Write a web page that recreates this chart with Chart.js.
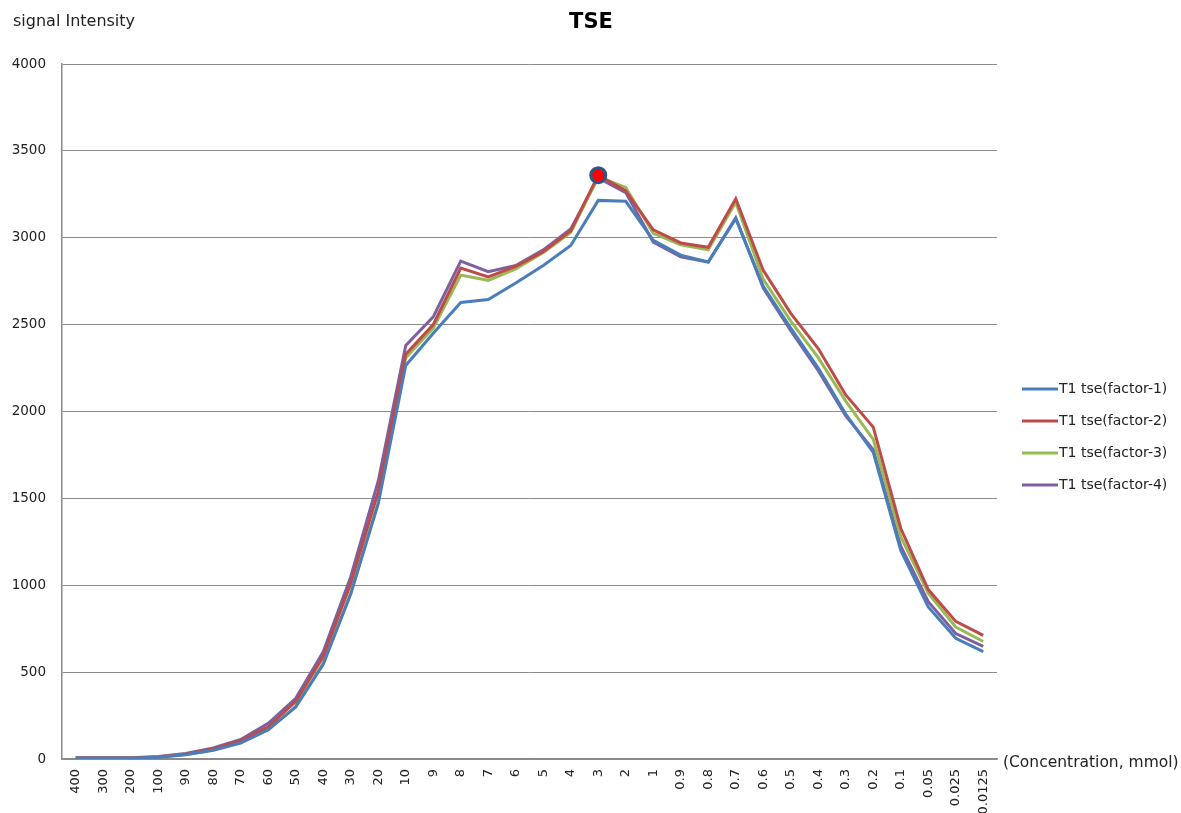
<!DOCTYPE html>
<html>
<head>
<meta charset="utf-8">
<script src="https://cdn.jsdelivr.net/npm/chart.js@4/dist/chart.umd.min.js"></script>
<style>
  html, body { margin: 0; padding: 0; background: #fff; }
  #wrap { width: 1181px; height: 813px; position: relative; }
</style>
</head>
<body>
<div id="wrap"><canvas id="c" width="1181" height="813"></canvas></div>
<script>
const categories = ['400','300','200','100','90','80','70','60','50','40','30','20','10','9','8','7','6','5','4','3','2','1','0.9','0.8','0.7','0.6','0.5','0.4','0.3','0.2','0.1','0.05','0.025','0.0125'];

const factor1 = [5,5,5,10,25,50,92,168,300,545,950,1470,2265,2450,2628,2645,2740,2840,2955,3215,3210,2985,2900,2860,3110,2720,2480,2250,1985,1765,1200,875,695,618];
const factor2 = [6,6,6,12,28,58,105,185,330,590,1010,1540,2330,2500,2825,2775,2835,2920,3040,3360,3270,3045,2970,2945,3225,2812,2565,2362,2095,1910,1328,975,792,712];
const factor3 = [5,5,5,11,26,52,98,168,302,552,955,1480,2310,2480,2785,2755,2820,2915,3030,3350,3290,3025,2960,2930,3205,2760,2520,2310,2060,1840,1280,955,760,676];
const factor4 = [7,7,7,14,32,64,112,205,349,617,1049,1600,2380,2545,2865,2805,2840,2930,3050,3345,3260,2975,2890,2860,3115,2710,2465,2235,1975,1780,1225,905,722,648];

const seriesNames = ['T1 tse(factor-1)','T1 tse(factor-2)','T1 tse(factor-3)','T1 tse(factor-4)'];
const seriesColors = ['#4a7ebb','#be4b48','#98b954','#7d60a0'];
const yTicks = [0,500,1000,1500,2000,2500,3000,3500,4000];

const titleText = 'TSE';
const yTitle = 'signal Intensity';
const xTitle = '(Concentration, mmol)';
const peakLabel = '3';
const peakSeries = 1;

const FONT = "'DejaVu Sans', sans-serif";

const overlay = {
  id: 'overlay',
  afterDatasetsDraw(chart) {
    const ctx = chart.ctx;
    const ca = chart.chartArea;
    // peak marker
    const idx = categories.indexOf(peakLabel);
    const pt = chart.getDatasetMeta(peakSeries).data[idx];
    ctx.save();
    ctx.beginPath();
    ctx.arc(pt.x, pt.y, 7.5, 0, Math.PI * 2);
    ctx.fillStyle = '#ff0000';
    ctx.fill();
    ctx.lineWidth = 3;
    ctx.strokeStyle = '#2f5687';
    ctx.stroke();
    ctx.restore();

    // texts
    ctx.save();
    ctx.fillStyle = '#000';
    ctx.textBaseline = 'middle';
    ctx.font = "bold 21px " + FONT;
    ctx.textAlign = 'center';
    ctx.fillText(titleText, 591, 23);
    ctx.textAlign = 'left';
    ctx.fillStyle = '#222';
    ctx.font = "16px " + FONT;
    ctx.fillText(yTitle, 13, 22);
    ctx.font = "15.5px " + FONT;
    ctx.fillText(xTitle, ca.right + 6, ca.bottom + 4);

    // legend
    const lx = ca.right + 25;
    let ly = 389;
    chart.data.datasets.forEach((ds, i) => {
      ctx.strokeStyle = ds.borderColor;
      ctx.lineWidth = 3;
      ctx.beginPath();
      ctx.moveTo(lx, ly);
      ctx.lineTo(lx + 36, ly);
      ctx.stroke();
      ctx.fillStyle = '#222';
      ctx.font = "14px " + FONT;
      ctx.fillText(ds.label, lx + 37, ly);
      ly += 32;
    });
    ctx.restore();
  }
};

const datasets = [factor1, factor2, factor3, factor4].map((d, i) => ({
  label: seriesNames[i],
  data: d,
  borderColor: seriesColors[i],
  backgroundColor: seriesColors[i],
  borderWidth: 3,
  pointRadius: 0,
  tension: 0,
  fill: false
}));

new Chart(document.getElementById('c'), {
  type: 'line',
  data: { labels: categories, datasets },
  options: {
    responsive: false,
    animation: false,
    devicePixelRatio: 1,
    layout: { padding: { left: 0, right: 184, top: 64, bottom: 0 } },
    plugins: { legend: { display: false }, title: { display: false }, tooltip: { enabled: false } },
    scales: {
      x: {
        offset: true,
        grid: { display: false, drawTicks: false },
        border: { display: true, color: '#8a8a8a', width: 1.5 },
        ticks: {
          minRotation: 90, maxRotation: 90, autoSkip: false,
          padding: 10,
          color: '#222',
          font: { family: FONT, size: 13 }
        },
        afterFit(scale) { scale.height = 54; }
      },
      y: {
        min: 0, max: 4000,
        afterBuildTicks(scale) { scale.ticks = yTicks.map(v => ({ value: v })); },
        grid: { color: '#8c8c8c', lineWidth: 1, drawTicks: false },
        border: { display: true, color: '#8a8a8a', width: 1.5 },
        ticks: {
          padding: 16,
          color: '#222',
          font: { family: FONT, size: 13.5 },
          callback: (v) => String(v)
        },
        afterFit(scale) { scale.width = 62; }
      }
    }
  },
  plugins: [overlay]
});
</script>
</body>
</html>
